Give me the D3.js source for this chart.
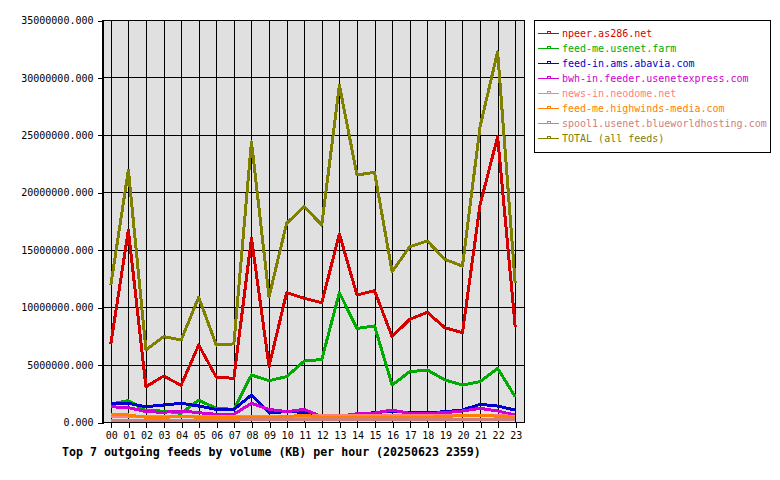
<!DOCTYPE html>
<html>
<head>
<meta charset="utf-8">
<script src="https://cdn.jsdelivr.net/npm/d3@7"></script>
<style>
  body { margin: 0; background: #fff; }
  text { font-family: "DejaVu Sans Mono", monospace; }
</style>
</head>
<body>
<div id="chart-area"></div>
<script>
// Data (KB per hour)
const hours = ["00","01","02","03","04","05","06","07","08","09","10","11",
               "12","13","14","15","16","17","18","19","20","21","22","23"]
const feedNames = ["npeer.as286.net", "feed-me.usenet.farm", "feed-in.ams.abavia.com",
  "bwh-in.feeder.usenetexpress.com", "news-in.neodome.net", "feed-me.highwinds-media.com",
  "spool1.usenet.blueworldhosting.com", "TOTAL (all feeds)"]
const feedColors = ["#d40000", "#00aa00", "#0000d0", "#d000d0", "#ff8080", "#ff8000", "#d08080", "#808000"]

const npeer = [6.8,16.7,3.07,4.0,3.2,6.7,3.9,3.8,16.0,4.85,11.26,10.77,10.39,16.37,11.06,11.43,7.43,8.94,9.55,8.21,7.78,18.9,24.84,8.3]
const usenetFarm = [1.57,1.86,0.98,0.95,0.75,1.9,1.19,1.1,4.09,3.6,3.95,5.3,5.45,11.26,8.15,8.36,3.22,4.38,4.53,3.66,3.22,3.51,4.67,2.2]
const abavia = [1.63,1.63,1.33,1.48,1.63,1.39,1.1,1.1,2.35,0.81,0.9,0.85,0.46,0.5,0.72,0.8,0.96,0.8,0.8,0.9,1.04,1.54,1.39,1.04]
const usenetexpress = [1.33,1.25,0.9,0.85,0.96,0.81,0.67,0.67,1.63,1.1,0.9,1.1,0.46,0.5,0.72,0.78,1.04,0.75,0.75,0.81,0.96,1.19,0.96,0.6]
const neodome = [0.5,0.5,0.45,0.45,0.48,0.45,0.45,0.45,0.48,0.5,0.5,0.5,0.55,0.55,0.55,0.55,0.55,0.55,0.55,0.55,0.6,0.6,0.55,0.5]
const highwinds = [0.61,0.61,0.41,0.38,0.52,0.4,0.38,0.38,0.4,0.4,0.46,0.6,0.4,0.35,0.4,0.4,0.42,0.42,0.42,0.46,0.6,0.6,0.5,0.4]
const blueworld = [0.17,0.17,0.17,0.17,0.17,0.17,0.17,0.17,0.18,0.18,0.18,0.18,0.18,0.18,0.18,0.18,0.18,0.18,0.18,0.18,0.2,0.2,0.2,0.18]
const total = [11.9,21.94,6.27,7.43,7.14,10.86,6.7,6.8,24.4,10.9,17.3,18.75,17.15,29.34,21.5,21.74,13.09,15.26,15.76,14.16,13.58,25.7,32.24,12.07]

const series = [npeer, usenetFarm, abavia, usenetexpress, neodome, highwinds, blueworld, total]
const yTicks = [0, 5e6, 10e6, 15e6, 20e6, 25e6, 30e6, 35e6]
const chartTitle = "Top 7 outgoing feeds by volume (KB) per hour (20250623 2359)"

const W = 780, H = 480
const PLOT = { LEFT: 102, RIGHT: 524, TOP: 20, BOTTOM: 422 }

const svg = d3.select("#chart-area").append("svg")
  .attr("width", W)
  .attr("height", H)

const x = d3.scalePoint()
  .domain(hours)
  .range([PLOT.LEFT, PLOT.RIGHT])
  .padding(0.5)

const y = d3.scaleLinear()
  .domain([0, 35e6])
  .range([PLOT.BOTTOM, PLOT.TOP])

// plot background
svg.append("rect")
  .attr("x", PLOT.LEFT).attr("y", PLOT.TOP)
  .attr("width", PLOT.RIGHT - PLOT.LEFT)
  .attr("height", PLOT.BOTTOM - PLOT.TOP)
  .attr("fill", "#e0e0e0")

// grid lines
const grid = svg.append("g").attr("shape-rendering", "crispEdges")
grid.selectAll(".hgrid").data(yTicks).enter().append("line")
  .attr("x1", PLOT.LEFT).attr("x2", PLOT.RIGHT)
  .attr("y1", d => Math.round(y(d)) + 0.5).attr("y2", d => Math.round(y(d)) + 0.5)
  .attr("stroke", "#000")
grid.selectAll(".vgrid").data(hours).enter().append("line")
  .attr("x1", d => Math.round(x(d)) + 0.5).attr("x2", d => Math.round(x(d)) + 0.5)
  .attr("y1", PLOT.TOP).attr("y2", PLOT.BOTTOM)
  .attr("stroke", "#000")

// Y axis
const yAxis = svg.append("g")
  .attr("transform", `translate(${PLOT.LEFT + 0.5},0.5)`)
  .call(d3.axisLeft(y).tickValues(yTicks).tickFormat(d3.format(".3f")).tickSize(5).tickPadding(4))
yAxis.selectAll("text").attr("font-size", "10px").attr("fill", "#000").attr("font-family", "DejaVu Sans Mono")
yAxis.selectAll("line, path").attr("stroke", "#000").attr("shape-rendering", "crispEdges")

// X axis
const xAxis = svg.append("g")
  .attr("transform", `translate(0.5,${PLOT.BOTTOM + 0.5})`)
  .call(d3.axisBottom(x).tickSize(5).tickPadding(4))
xAxis.selectAll("text").attr("font-size", "10px").attr("fill", "#000").attr("font-family", "DejaVu Sans Mono")
xAxis.selectAll("line, path").attr("stroke", "#000").attr("shape-rendering", "crispEdges")
xAxis.select("path").remove()

// frame
svg.append("rect")
  .attr("x", PLOT.LEFT + 0.5).attr("y", PLOT.TOP + 0.5)
  .attr("width", PLOT.RIGHT - PLOT.LEFT)
  .attr("height", PLOT.BOTTOM - PLOT.TOP)
  .attr("fill", "none").attr("stroke", "#000")
  .attr("shape-rendering", "crispEdges")

// series lines
const line = d3.line()
  .x((d, i) => x(hours[i]))
  .y(d => y(d * 1e6))

svg.append("g").selectAll("path")
  .data(series).enter().append("path")
  .attr("d", line)
  .attr("fill", "none")
  .attr("stroke", (d, i) => feedColors[i])
  .attr("stroke-width", 3)
  .attr("stroke-linejoin", "round")
  .attr("shape-rendering", "crispEdges")

// title
svg.append("text")
  .attr("x", 62).attr("y", 456)
  .attr("font-size", "11.6px")
  .attr("font-weight", "bold")
  .text(chartTitle)

// legend
const legend = svg.append("g")
legend.append("rect")
  .attr("x", 534.5).attr("y", 20.5)
  .attr("width", 236).attr("height", 132)
  .attr("fill", "#fff").attr("stroke", "#000")
  .attr("shape-rendering", "crispEdges")

const items = legend.selectAll(".item").data(feedNames).enter().append("g")
  .attr("transform", (d, i) => `translate(0,${33 + i * 15})`)
items.append("line")
  .attr("x1", 538).attr("x2", 559).attr("y1", 0.5).attr("y2", 0.5)
  .attr("stroke", (d, i) => feedColors[i])
  .attr("shape-rendering", "crispEdges")
items.append("rect")
  .attr("x", 547.5).attr("y", -1.5).attr("width", 3).attr("height", 2)
  .attr("fill", "none")
  .attr("stroke", (d, i) => feedColors[i])
  .attr("shape-rendering", "crispEdges")
items.append("text")
  .attr("x", 562).attr("y", 4)
  .attr("font-size", "10px")
  .attr("fill", (d, i) => feedColors[i])
  .text(d => d)
</script>
</body>
</html>
